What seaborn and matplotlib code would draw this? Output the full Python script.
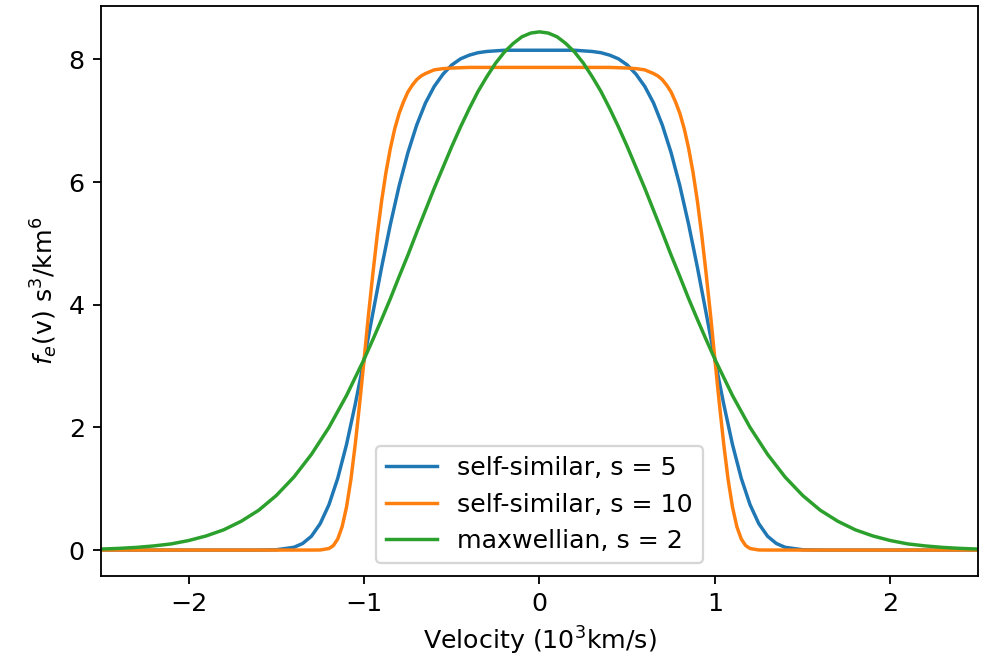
import numpy as np
import pandas as pd
import matplotlib
matplotlib.use("Agg")
import matplotlib.pyplot as plt
import seaborn as sns

# velocity in 10^3 km/s, f_e(v) in s^3/km^6
v_ss5 = [-2.5, -2.0, -1.6, -1.5, -1.4, -1.35, -1.3, -1.25, -1.2, -1.15, -1.1, -1.05,
         -1.0, -0.95, -0.9, -0.85, -0.8, -0.75, -0.7, -0.65, -0.6, -0.55, -0.5, -0.45,
         -0.4, -0.35, -0.3, -0.25, -0.2, 0.0, 0.2, 0.25, 0.3, 0.35, 0.4, 0.45, 0.5, 0.55,
         0.6, 0.65, 0.7, 0.75, 0.8, 0.85, 0.9, 0.95, 1.0, 1.05, 1.1, 1.15, 1.2, 1.25,
         1.3, 1.35, 1.4, 1.5, 1.6, 2.0, 2.5]
f_ss5 = [0.0, 0.0, 0.0003, 0.005, 0.045, 0.107, 0.225, 0.43, 0.74, 1.17, 1.72, 2.38,
         3.10, 3.86, 4.61, 5.31, 5.94, 6.48, 6.93, 7.29, 7.56, 7.76, 7.91, 8.01,
         8.07, 8.11, 8.13, 8.14, 8.15, 8.15, 8.15, 8.14, 8.13, 8.11, 8.07, 8.01, 7.91, 7.76,
         7.56, 7.29, 6.93, 6.48, 5.94, 5.31, 4.61, 3.86, 3.10, 2.38, 1.72, 1.17, 0.74, 0.43,
         0.225, 0.107, 0.045, 0.005, 0.0003, 0.0, 0.0]

v_ss10 = [-2.5, -2.0, -1.3, -1.25, -1.2, -1.175, -1.15, -1.125, -1.1, -1.075, -1.05, -1.025,
          -1.0, -0.975, -0.95, -0.925, -0.9, -0.875, -0.85, -0.825, -0.8, -0.775, -0.75,
          -0.725, -0.7, -0.675, -0.65, -0.6, -0.55, -0.5, -0.4, 0.0, 0.4, 0.5, 0.55, 0.6,
          0.65, 0.675, 0.7, 0.725, 0.75, 0.775, 0.8, 0.825, 0.85, 0.875, 0.9, 0.925, 0.95,
          0.975, 1.0, 1.025, 1.05, 1.075, 1.1, 1.125, 1.15, 1.175, 1.2, 1.25, 1.3, 2.0, 2.5]
f_ss10 = [0.0, 0.0, 0.0, 0.0013, 0.025, 0.073, 0.18, 0.38, 0.70, 1.15, 1.73, 2.39,
          3.10, 3.83, 4.50, 5.13, 5.69, 6.16, 6.55, 6.87, 7.12, 7.31, 7.47,
          7.58, 7.67, 7.73, 7.77, 7.83, 7.85, 7.86, 7.87, 7.87, 7.87, 7.86, 7.85, 7.83,
          7.77, 7.73, 7.67, 7.58, 7.47, 7.31, 7.12, 6.87, 6.55, 6.16, 5.69, 5.13, 4.50,
          3.83, 3.10, 2.39, 1.73, 1.15, 0.70, 0.38, 0.18, 0.073, 0.025, 0.0013, 0.0, 0.0, 0.0]

v_max = [-2.5, -2.4, -2.3, -2.2, -2.1, -2.0, -1.9, -1.8, -1.7, -1.6, -1.5, -1.4, -1.3,
         -1.2, -1.1, -1.0, -0.95, -0.9, -0.85, -0.8, -0.75, -0.7, -0.65, -0.6, -0.55,
         -0.5, -0.45, -0.4, -0.35, -0.3, -0.25, -0.2, -0.15, -0.1, -0.05, 0.0,
         0.05, 0.1, 0.15, 0.2, 0.25, 0.3, 0.35, 0.4, 0.45, 0.5, 0.55, 0.6, 0.65, 0.7,
         0.75, 0.8, 0.85, 0.9, 0.95, 1.0, 1.1, 1.2, 1.3, 1.4, 1.5, 1.6, 1.7, 1.8, 1.9,
         2.0, 2.1, 2.2, 2.3, 2.4, 2.5]
f_max = [0.016, 0.027, 0.043, 0.067, 0.10, 0.155, 0.23, 0.33, 0.47, 0.65, 0.89, 1.19, 1.56,
         2.00, 2.52, 3.11, 3.43, 3.76, 4.10, 4.46, 4.81, 5.18, 5.54, 5.90, 6.24,
         6.58, 6.90, 7.20, 7.48, 7.72, 7.94, 8.12, 8.26, 8.37, 8.43, 8.45,
         8.43, 8.37, 8.26, 8.12, 7.94, 7.72, 7.48, 7.20, 6.90, 6.58, 6.24, 5.90, 5.54, 5.18,
         4.81, 4.46, 4.10, 3.76, 3.43, 3.11, 2.52, 2.00, 1.56, 1.19, 0.89, 0.65, 0.47, 0.33, 0.23,
         0.155, 0.10, 0.067, 0.043, 0.027, 0.016]

series = [
    ("self-similar, s = 5", v_ss5, f_ss5, "C0"),
    ("self-similar, s = 10", v_ss10, f_ss10, "C1"),
    ("maxwellian, s = 2", v_max, f_max, "C2"),
]

plt.rcParams["font.size"] = 11

fig, ax = plt.subplots(figsize=(989 / 165, 659 / 165), dpi=165)

for label, v, f, col in series:
    df = pd.DataFrame({"v": v, "f": f})
    sns.lineplot(data=df, x="v", y="f", ax=ax, color=col, label=label,
                 linewidth=1.5, sort=False)

ax.set_xlim(-2.5, 2.5)
ax.set_xlabel("Velocity (10$^3$km/s)")
ax.set_ylabel("$f_e$(v) s$^3$/km$^6$")
ax.legend(loc="lower center")

fig.subplots_adjust(left=0.102, right=0.989, bottom=0.126, top=0.991)
fig.savefig("out.png", dpi=165)
